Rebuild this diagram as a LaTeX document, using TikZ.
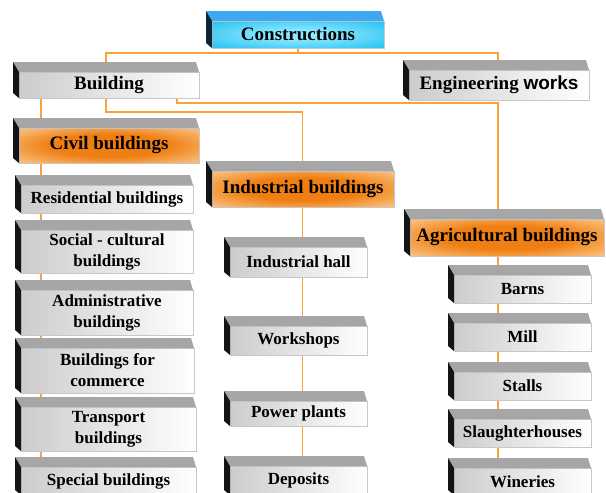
\documentclass[tikz,border=0pt]{standalone}
\usepackage{fontspec}
\setmainfont{Liberation Serif}
\setsansfont{Liberation Sans}
\newfontfamily\tnr{Liberation Serif}
\newfontfamily\arl{Liberation Sans}
\usetikzlibrary{calc}
\definecolor{conncol}{HTML}{F9A23C}
\definecolor{bevelgray}{HTML}{A6A6A6}
\definecolor{sideblack}{HTML}{141414}
\definecolor{gfl}{HTML}{CCCCCC}
\definecolor{gfm}{HTML}{F2F2F2}
\definecolor{oin}{HTML}{EF7F12}
\definecolor{oout}{HTML}{FFE3B8}
\definecolor{bin}{HTML}{8CE8FF}
\definecolor{bout}{HTML}{1CBDF0}
\definecolor{bbevel}{HTML}{3FA8F2}
\definecolor{bside}{HTML}{0C2438}
\pgfdeclareradialshading{oglow}{\pgfpoint{0bp}{0bp}}{color(0bp)=(oin); color(16bp)=(oin); color(44bp)=(oout); color(50bp)=(oout)}
\pgfdeclareradialshading{bglow}{\pgfpoint{0bp}{0bp}}{color(0bp)=(bin); color(8bp)=(bin); color(38bp)=(bout); color(50bp)=(bout)}
\pgfdeclarelayer{bg}
\pgfsetlayers{bg,main}
\tikzset{
  face/.style={draw=black!22, line width=0.6pt, inner sep=0pt, outer sep=0pt, align=center, text=black},
  bigfont/.style={font=\tnr\fontsize{19}{22}\selectfont\bfseries},
  smallfont/.style={font=\tnr\fontsize{17}{21}\selectfont\bfseries},
  grayface/.style={face, left color=gfl, middle color=gfm, right color=white, smallfont},
  graybigface/.style={face, left color=gfl, middle color=gfm, right color=white, bigfont},
  orangeface/.style={face, shading=oglow, bigfont},
  blueface/.style={face, shading=bglow, bigfont},
  graybevel/.style={fill=bevelgray},
  graybigbevel/.style={fill=bevelgray},
  orangebevel/.style={fill=bevelgray},
  bluebevel/.style={fill=bbevel},
  grayside/.style={fill=sideblack},
  graybigside/.style={fill=sideblack},
  orangeside/.style={fill=sideblack},
  blueside/.style={fill=bside},
  conn/.style={draw=conncol, line width=1.4pt},
}
\newcommand\tdbox[7][gray]{%
  \node[#1face, minimum width={#5-#3}, minimum height={#6-#4}] (#2) at ({(#3+#5)/2},{(#4+#6)/2}) {#7};
  \fill[#1bevel] (#2.north west) -- ++(-6,-10) -- ($(#2.north east)+(-3,-10)$) -- (#2.north east) -- cycle;
  \fill[#1side] (#2.north west) -- ++(-6,-10) -- ($(#2.south west)+(-6,-5)$) -- (#2.south west) -- cycle;
}
\begin{document}
\begin{tikzpicture}[x=1pt,y=-1pt]
\useasboundingbox (0,0) rectangle (606,493);
% top levels
\tdbox[blue]{cons}{212}{21}{384}{48}{Constructions}
\tdbox[graybig]{bld}{19}{72}{199}{98}{Building}
\tdbox[graybig]{eng}{409}{70}{589}{100}{Engineering {\arl works}}
\tdbox[orange]{civ}{19}{128}{199}{163}{Civil buildings}
\tdbox[orange]{ind}{212}{171}{394}{207}{Industrial buildings}
\tdbox[orange]{agr}{410}{219}{604}{256}{Agricultural buildings}
% left column
\tdbox{res}{21}{185}{193}{213}{Residential buildings}
\tdbox{soc}{21}{230}{193}{273}{Social - cultural\\buildings}
\tdbox{adm}{21}{290}{193}{335}{Administrative\\buildings}
\tdbox{com}{21}{348}{194}{393}{Buildings for\\commerce}
\tdbox{tra}{21}{407}{196}{451}{Transport\\buildings}
\tdbox{spe}{21}{467}{196}{495}{Special buildings}
% middle column
\tdbox{ihall}{230}{247}{367}{277}{Industrial hall}
\tdbox{work}{230}{326}{367}{355}{Workshops}
\tdbox{pow}{230}{401}{367}{426}{Power plants}
\tdbox{dep}{230}{466}{367}{495}{Deposits}
% right column
\tdbox{barn}{454}{275}{591}{303}{Barns}
\tdbox{mill}{454}{323}{591}{351}{Mill}
\tdbox{stall}{454}{372}{591}{400}{Stalls}
\tdbox{slau}{454}{419}{591}{447}{Slaughterhouses}
\tdbox{wine}{454}{468}{591}{495}{Wineries}
% connectors
\coordinate (lx) at (41,0);
\coordinate (mx) at (302.5,0);
\coordinate (rx) at (498,0);
\begin{pgfonlayer}{bg}
\draw[conn] (cons.south) -- ++(0,5) coordinate (j);
\draw[conn] ([xshift=-3pt]bld.north) |- (j) -| (rx |- eng.north);
\draw[conn] (lx |- bld.south) -- (lx |- civ.north);
\draw[conn] ([xshift=-3pt]bld.south) -- ++(0,14) -| (mx |- ind.north);
\draw[conn] ([xshift=68pt]bld.south) -- ++(0,5) -| (rx |- agr.north);
\foreach \a/\b in {civ/res,res/soc,soc/adm,adm/com,com/tra,tra/spe}
  \draw[conn] (lx |- \a.south) -- (lx |- \b.north);
\foreach \a/\b in {ind/ihall,ihall/work,work/pow,pow/dep}
  \draw[conn] (mx |- \a.south) -- (mx |- \b.north);
\foreach \a/\b in {agr/barn,barn/mill,mill/stall,stall/slau,slau/wine}
  \draw[conn] (rx |- \a.south) -- (rx |- \b.north);
\end{pgfonlayer}
\end{tikzpicture}
\end{document}
